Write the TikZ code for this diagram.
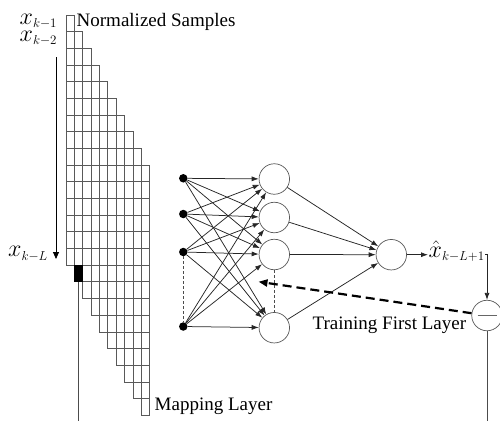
\RequirePackage{fix-cm}
\documentclass[tikz,border=0pt]{standalone}
\usepackage{fontspec}
\setmainfont{Liberation Serif}
\usetikzlibrary{arrows.meta}
\newcommand\subtxt[1]{\mbox{\fontsize{13}{14}\selectfont$#1$}}
\begin{document}
\begin{tikzpicture}[x=1pt,y=-1pt,
  gridline/.style={draw=black!65, line width=0.8pt},
  conn/.style={draw=black!85, line width=0.75pt, -{Latex[length=7pt,width=5pt]}},
  plainline/.style={draw=black!70, line width=0.8pt},
  thindash/.style={draw=black!70, line width=0.7pt, dash pattern=on 3pt off 2pt},
  dot/.style={circle, fill=black, inner sep=0pt, minimum size=8.5pt},
  neuron/.style={circle, draw=black!65, line width=0.7pt, minimum size=30.5pt, inner sep=0pt, fill=white},
  lbl/.style={inner sep=0pt, font=\fontsize{19}{22}\selectfont},
  mlbl/.style={inner sep=0pt, font=\fontsize{24}{26}\selectfont},
]
\useasboundingbox (0,0) rectangle (500,421);
% grid
\def\gx{66}\def\gdx{8.37}\def\gy{15}\def\gdy{16.68}
\foreach \r in {1,...,24}{
  \pgfmathtruncatemacro\ca{max(1,\r-14)}
  \pgfmathtruncatemacro\cb{min(10,\r)}
  \foreach \c in {\ca,...,\cb}{
    \draw[gridline] ({\gx+(\c-1)*\gdx},{\gy+(\r-1)*\gdy}) rectangle ++(\gdx,\gdy);
  }
}
\fill[black] ({\gx+\gdx},{\gy+15*\gdy}) rectangle ++(\gdx,\gdy);
\coordinate (mapstart) at ({\gx+1.5*\gdx},{\gy+16*\gdy});
\coordinate (mapend) at ({\gx+1.5*\gdx},421);
\draw[plainline] (mapstart) -- (mapend);
% left arrow
\coordinate (arrtop) at (56,57);
\coordinate (arrbot) at (56,259);
\draw[black, line width=0.8pt, -{Triangle[length=7pt,width=6pt]}] (arrtop) -- (arrbot);
% labels
\node[mlbl, anchor=base west] (xk1) at (19.5,24) {$x_{\subtxt{k\mathord{-}1}}$};
\node[mlbl, anchor=base west] (xk2) at (19.5,41) {$x_{\subtxt{k\mathord{-}2}}$};
\node[mlbl, anchor=base west] (xkL) at (8,256.7) {$x_{\subtxt{k\mathord{-}L}}$};
\node[lbl, anchor=base west] (ns) at (76.5,26.7) {Normalized Samples};
\node[lbl, anchor=base west] (ml) at (154.5,410) {Mapping Layer};
\node[lbl, anchor=base west] (tfl) at (312.5,329.3) {Training First Layer};
% network
\node[dot] (i1) at (183.3,178.3) {};
\node[dot] (i2) at (183.3,214) {};
\node[dot] (i3) at (183.3,252) {};
\node[dot] (i4) at (183.3,326.5) {};
\node[neuron] (h1) at (274.3,179) {};
\node[neuron] (h2) at (274.3,217.5) {};
\node[neuron] (h3) at (274.3,254.5) {};
\node[neuron] (h4) at (274.3,327.7) {};
\node[neuron] (o) at (391.3,254.7) {};
\node[neuron] (sub) at (487,315.5) {};
\foreach \i in {1,...,4}{
  \foreach \h in {1,...,4}{
    \draw[conn] (i\i) -- (h\h);
  }
}
\foreach \h in {1,...,4}{
  \draw[conn] (h\h) -- (o);
}
\draw[thindash] (i3) -- (i4);
\draw[thindash] (h3) -- (h4);
% output
\node[mlbl, anchor=base west, inner sep=0.5pt] (xh) at (428,257) {$\hat{x}_{\subtxt{k\mathord{-}L\mathord{+}1}}$};
\draw[conn] (o) -- (xh.west |- o);
\draw[conn] (xh.east |- o) -| (sub.north);
\draw[black!60, line width=0.7pt] ([xshift=-9.5pt]sub.center) -- ([xshift=9.5pt]sub.center);
\coordinate (subend) at (487,421);
\draw[plainline] (sub.south) -- (subend);
\coordinate (dashend) at (258.5,281.7);
\draw[black, line width=2.2pt, dash pattern=on 9pt off 5pt, -{Triangle[length=9pt,width=7pt]}] (sub) -- (dashend);
\end{tikzpicture}
\end{document}
